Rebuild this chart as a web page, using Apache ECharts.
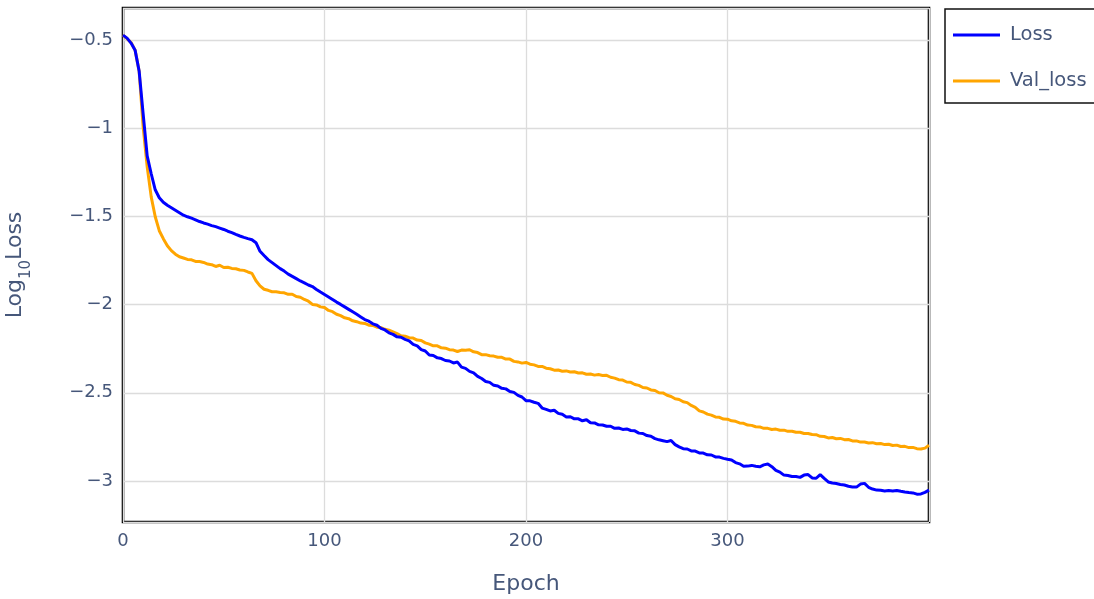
<!DOCTYPE html>
<html>
<head>
<meta charset="utf-8">
<script src="https://cdn.jsdelivr.net/npm/echarts@6/dist/echarts.min.js"></script>
<style>
  html, body { margin: 0; padding: 0; background: #fff; }
  #chart { width: 1094px; height: 599px; }
</style>
</head>
<body>
<div id="chart"></div>
<script>
// Training history: log10 of the loss, sampled every 2 epochs (0..400)
const EPOCH_STEP = 2;

const lossValues = [
  -0.472,-0.489,-0.517,-0.557,-0.675,-0.919,-1.157,-1.258,-1.349,-1.394,
  -1.420,-1.437,-1.451,-1.465,-1.479,-1.493,-1.502,-1.510,-1.519,-1.529,
  -1.537,-1.544,-1.552,-1.558,-1.566,-1.574,-1.584,-1.592,-1.602,-1.611,
  -1.619,-1.626,-1.632,-1.649,-1.698,-1.722,-1.745,-1.762,-1.779,-1.796,
  -1.810,-1.827,-1.840,-1.853,-1.866,-1.877,-1.889,-1.898,-1.914,-1.929,
  -1.943,-1.957,-1.971,-1.986,-1.999,-2.013,-2.027,-2.041,-2.055,-2.070,
  -2.085,-2.094,-2.109,-2.117,-2.135,-2.144,-2.160,-2.169,-2.183,-2.185,
  -2.197,-2.206,-2.226,-2.234,-2.255,-2.263,-2.286,-2.289,-2.302,-2.306,
  -2.317,-2.320,-2.331,-2.326,-2.355,-2.362,-2.379,-2.387,-2.407,-2.419,
  -2.436,-2.441,-2.458,-2.462,-2.475,-2.478,-2.493,-2.498,-2.515,-2.524,
  -2.545,-2.546,-2.554,-2.560,-2.587,-2.594,-2.603,-2.599,-2.617,-2.622,
  -2.637,-2.636,-2.648,-2.648,-2.659,-2.653,-2.670,-2.671,-2.682,-2.683,
  -2.690,-2.690,-2.702,-2.700,-2.708,-2.705,-2.714,-2.716,-2.729,-2.731,
  -2.743,-2.747,-2.760,-2.767,-2.772,-2.777,-2.771,-2.794,-2.807,-2.817,
  -2.819,-2.830,-2.831,-2.841,-2.842,-2.852,-2.853,-2.864,-2.865,-2.872,
  -2.877,-2.881,-2.896,-2.903,-2.917,-2.916,-2.912,-2.917,-2.920,-2.909,
  -2.904,-2.919,-2.940,-2.950,-2.967,-2.969,-2.975,-2.975,-2.980,-2.967,
  -2.964,-2.983,-2.985,-2.964,-2.986,-3.006,-3.012,-3.015,-3.020,-3.023,
  -3.030,-3.034,-3.035,-3.018,-3.014,-3.036,-3.046,-3.052,-3.053,-3.057,
  -3.055,-3.057,-3.054,-3.059,-3.063,-3.066,-3.068,-3.075,-3.074,-3.065,
  -3.052
];

const valLossValues = [
  -0.472,-0.492,-0.514,-0.557,-0.675,-0.992,-1.219,-1.389,-1.502,-1.581,
  -1.626,-1.666,-1.694,-1.714,-1.729,-1.736,-1.744,-1.746,-1.755,-1.756,
  -1.761,-1.770,-1.774,-1.784,-1.777,-1.790,-1.788,-1.795,-1.797,-1.804,
  -1.806,-1.815,-1.823,-1.865,-1.894,-1.913,-1.919,-1.927,-1.927,-1.931,
  -1.933,-1.942,-1.941,-1.954,-1.958,-1.971,-1.981,-1.999,-2.002,-2.013,
  -2.017,-2.033,-2.040,-2.055,-2.063,-2.075,-2.080,-2.092,-2.097,-2.105,
  -2.107,-2.117,-2.118,-2.128,-2.130,-2.140,-2.145,-2.155,-2.165,-2.177,
  -2.179,-2.188,-2.190,-2.201,-2.204,-2.217,-2.224,-2.234,-2.234,-2.245,
  -2.247,-2.256,-2.258,-2.266,-2.258,-2.259,-2.256,-2.268,-2.272,-2.284,
  -2.284,-2.290,-2.292,-2.299,-2.299,-2.309,-2.309,-2.322,-2.325,-2.332,
  -2.328,-2.338,-2.342,-2.351,-2.351,-2.361,-2.364,-2.372,-2.371,-2.378,
  -2.376,-2.382,-2.381,-2.388,-2.387,-2.395,-2.394,-2.400,-2.397,-2.402,
  -2.401,-2.412,-2.417,-2.426,-2.428,-2.439,-2.441,-2.453,-2.458,-2.470,
  -2.473,-2.484,-2.487,-2.500,-2.501,-2.514,-2.521,-2.534,-2.538,-2.551,
  -2.556,-2.572,-2.583,-2.603,-2.609,-2.621,-2.627,-2.637,-2.639,-2.649,
  -2.650,-2.659,-2.662,-2.671,-2.673,-2.683,-2.685,-2.693,-2.694,-2.702,
  -2.702,-2.708,-2.706,-2.713,-2.712,-2.719,-2.718,-2.724,-2.724,-2.731,
  -2.731,-2.737,-2.738,-2.747,-2.748,-2.756,-2.754,-2.761,-2.759,-2.766,
  -2.765,-2.773,-2.773,-2.780,-2.779,-2.785,-2.783,-2.789,-2.788,-2.794,
  -2.792,-2.799,-2.797,-2.805,-2.804,-2.811,-2.810,-2.817,-2.819,-2.814,
  -2.798
];

const seriesNames = ['Loss', 'Val_loss'];
const seriesColors = ['#0000ff', '#ffa500'];

const FONT = '"DejaVu Sans", sans-serif';
const TEXT_COLOR = '#46577a';

const toPairs = vals => vals.map((v, i) => [i * EPOCH_STEP, v]);

const chart = echarts.init(document.getElementById('chart'), null, { renderer: 'canvas' });

chart.setOption({
  animation: false,
  backgroundColor: '#fff',
  grid: {
    left: 123, top: 8, width: 806, height: 514,
    outerBoundsMode: 'none',
    containLabel: false,
    show: true, borderColor: '#000', borderWidth: 2.6,
    backgroundColor: 'transparent'
  },
  legend: {
    data: seriesNames,
    orient: 'vertical',
    left: 945, top: 9,
    padding: [16, 40, 12, 8],
    itemGap: 26,
    itemWidth: 47, itemHeight: 3,
    icon: 'rect',
    borderColor: '#111', borderWidth: 1.5,
    backgroundColor: '#fff',
    textStyle: { fontFamily: FONT, fontSize: 19.5, color: TEXT_COLOR, padding: [0, 0, 0, 5] }
  },
  xAxis: {
    type: 'value',
    min: 0, max: 400,
    name: 'Epoch',
    nameLocation: 'middle',
    nameGap: 51,
    nameTextStyle: { fontFamily: FONT, fontSize: 22, color: TEXT_COLOR },
    axisLine: { show: false },
    axisTick: { show: false },
    axisLabel: {
      fontFamily: FONT, fontSize: 18, color: TEXT_COLOR, margin: 10,
      showMaxLabel: false
    },
    splitLine: { show: true, lineStyle: { color: '#dcdcdc', width: 1.3 } }
  },
  yAxis: {
    type: 'value',
    min: -3.233, max: -0.318,
    name: '{a|Log}{s|10}{a|Loss}',
    nameLocation: 'middle',
    nameGap: 89,
    nameTextStyle: {
      fontFamily: FONT, fontSize: 22, color: TEXT_COLOR,
      rich: {
        a: { fontFamily: FONT, fontSize: 22, color: TEXT_COLOR, verticalAlign: 'top', lineHeight: 25 },
        s: { fontFamily: FONT, fontSize: 15, color: TEXT_COLOR, verticalAlign: 'bottom', padding: [15, 0, 0, 0] }
      }
    },
    axisLine: { show: false },
    axisTick: { show: false },
    axisLabel: {
      fontFamily: FONT, fontSize: 18, color: TEXT_COLOR, margin: 10,
      showMinLabel: false, showMaxLabel: false,
      formatter: v => String(v).replace('-', '\u2212')
    },
    splitLine: { show: true, lineStyle: { color: '#dcdcdc', width: 1.3 } }
  },
  series: [
    {
      name: seriesNames[0], type: 'line', data: toPairs(lossValues),
      showSymbol: false, symbol: 'none',
      lineStyle: { color: seriesColors[0], width: 3 },
      itemStyle: { color: seriesColors[0] },
      z: 3
    },
    {
      name: seriesNames[1], type: 'line', data: toPairs(valLossValues),
      showSymbol: false, symbol: 'none',
      lineStyle: { color: seriesColors[1], width: 3 },
      itemStyle: { color: seriesColors[1] },
      z: 2
    }
  ]
});
</script>
</body>
</html>
